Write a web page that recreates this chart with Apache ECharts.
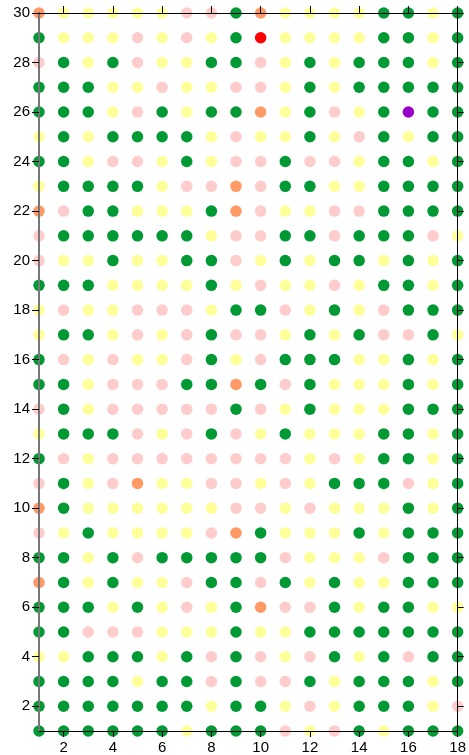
<!DOCTYPE html>
<html>
<head>
<meta charset="utf-8">
<script src="https://cdn.jsdelivr.net/npm/echarts@6/dist/echarts.min.js"></script>
<style>
  html, body { margin: 0; padding: 0; background: #fff; }
  #chart { width: 469px; height: 755px; }
</style>
</head>
<body>
<div id="chart"></div>
<script>
// Column and row positions of the grid of cells
const columns = ["1", "2", "3", "4", "5", "6", "7", "8", "9", "10", "11", "12", "13", "14", "15", "16", "17", "18"];
const rows = ["30", "29", "28", "27", "26", "25", "24", "23", "22", "21", "20", "19", "18", "17", "16", "15", "14", "13", "12", "11", "10", "9", "8", "7", "6", "5", "4", "3", "2", "1"];

// Status code of every cell, one string per row (top row first), one letter per column
// G = green, Y = yellow, P = pink, O = orange, R = red, V = violet
const cellCodes = [
  "OYYYYYPPGOYYYYGGYG", // 30
  "GYYYPYPYGRYYYYGGYG", // 29
  "PGYGPYYGGPYGYGGGYG", // 28
  "GGGYYPYYPPYGYGGGGG", // 27
  "GGGYPGYGGOYGPYGVGG", // 26
  "YGYGGGGYPYYGYPGYGG", // 25
  "GGYPPYGYPPGPPYGGYG", // 24
  "YGGGGYPPOPGGYYGGGG", // 23
  "OPGGYYYGOPYYPPGGGG", // 22
  "PGGGGGGYPPGGPGGGPY", // 21
  "PYYGYYGGPYGYGGYGYG", // 20
  "GGGYYYYGYPYYPYGGYG", // 19
  "YPYYPPPYGGPYGYPGGG", // 18
  "YGGYPYPGPPYGYGPPGY", // 17
  "GPYPYYPGYPGGGYYGYG", // 16
  "GGYPPPGGOGPGYYYGYG", // 15
  "PGYPPPPPGPYGYYYGGG", // 14
  "YGGGPYPGPYGYYYGGYG", // 13
  "GPYPPPPPPPPYPYGGYG", // 12
  "PGYPOYYPPYPYGGGPYG", // 11
  "OGYYYYYYPPYPYYYGYG", // 10
  "PYGYYYYPOGYYYGYGGG", // 9
  "GGYGPGGGGGPYYYPGGG", // 8
  "OGYGYYPGGPGYGYYGGG", // 7
  "GGGYGYPYGOPPGYGGYY", // 6
  "GGPPPYYYGYYGGGGGGG", // 5
  "YYGGGYGPGPYPGYGPGG", // 4
  "GGGGYGGPGPPGYGGGYG", // 3
  "GGGGGGGYGGYPYGGGYP", // 2
  "GGGGGGYGGGPYPGYGGG"  // 1
];

// Colour of each status code
const statusCodes = ["G", "Y", "P", "O", "R", "V"];
const statusColors = ["#009933", "#ffff99", "#ffcccc", "#ff9966", "#ff0000", "#9900cc"];

// Axis tick labels
const xTicks = ["2", "4", "6", "8", "10", "12", "14", "16", "18"];
const yTicks = ["2", "4", "6", "8", "10", "12", "14", "16", "18", "20", "22", "24", "26", "28", "30"];

// One scatter series per status code
const series = statusCodes.map((code, k) => {
  const pts = [];
  rows.forEach((r, ri) => {
    columns.forEach((c, ci) => {
      if (cellCodes[ri][ci] === code) pts.push([c, r]);
    });
  });
  return {
    type: 'scatter',
    name: code,
    data: pts,
    symbol: 'circle',
    symbolSize: 11.5,
    itemStyle: { color: statusColors[k], opacity: 1 },
    emphasis: { disabled: true },
    z: 2
  };
});

const yCats = rows.slice().reverse();
const font = { fontFamily: 'Liberation Sans', fontSize: 15, color: '#000' };
const showX = (i, v) => xTicks.includes(String(v));
const showY = (i, v) => yTicks.includes(String(v));

function catAxis(data, position, showFn, tickLen, withLabels, lineStyle) {
  return {
    type: 'category',
    data: data,
    boundaryGap: false,
    position: position,
    z: 5,
    splitLine: { show: false },
    axisLine: { onZero: false, lineStyle: lineStyle },
    axisTick: { show: true, interval: showFn, length: tickLen, lineStyle: { color: '#000', width: 1 } },
    axisLabel: Object.assign({ show: withLabels, interval: showFn, margin: 9 }, font)
  };
}

const chart = echarts.init(document.getElementById('chart'), null, { renderer: 'canvas' });
chart.setOption({
  animation: false,
  backgroundColor: '#fff',
  grid: { left: 39, right: 9, top: 13, bottom: 24, containLabel: false },
  xAxis: [
    catAxis(columns, 'bottom', showX, 6, true, { color: '#000', width: 1 }),
    catAxis(columns, 'top', showX, 7, false, { color: '#000', width: 1 })
  ],
  yAxis: [
    catAxis(yCats, 'left', showY, 7, true, { color: '#777', width: 2 }),
    catAxis(yCats, 'right', showY, 6, false, { color: '#000', width: 1 })
  ],
  series: series
});
</script>
</body>
</html>
